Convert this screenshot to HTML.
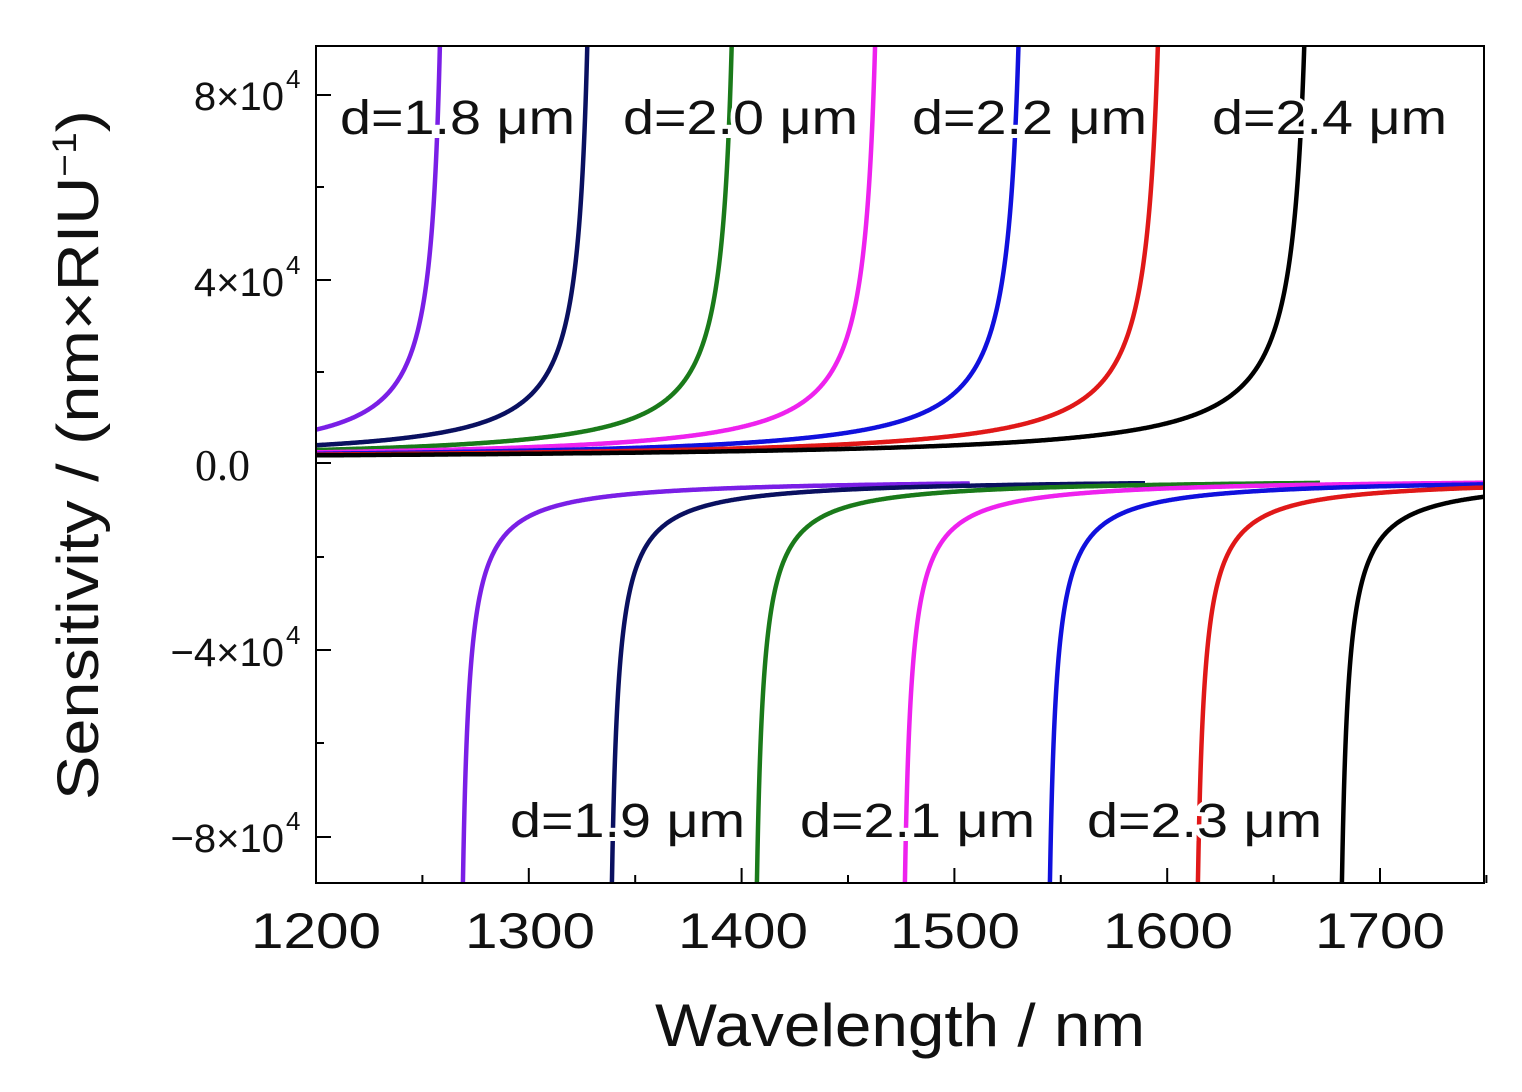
<!DOCTYPE html>
<html><head><meta charset="utf-8"><style>
body{margin:0;background:#fff;width:1522px;height:1092px;overflow:hidden}
svg{display:block}
</style></head><body>
<svg id="s" width="1522" height="1092" xmlns="http://www.w3.org/2000/svg">
<defs><clipPath id="c"><rect x="316" y="46" width="1168" height="837"/></clipPath></defs>
<g id="curves" clip-path="url(#c)" fill="none" stroke-width="4.5"></g>
<rect x="316" y="46" width="1168" height="837" fill="none" stroke="#000" stroke-width="2"/>
<g id="ticks" stroke="#000" stroke-width="2"></g>
<g font-family="Liberation Sans, sans-serif" font-size="48" fill="#111" stroke="#fff" stroke-width="8" paint-order="stroke">
<text x="340" y="134" textLength="235" lengthAdjust="spacingAndGlyphs">d=1.8 μm</text>
<text x="623" y="134" textLength="235" lengthAdjust="spacingAndGlyphs">d=2.0 μm</text>
<text x="912" y="134" textLength="235" lengthAdjust="spacingAndGlyphs">d=2.2 μm</text>
<text x="1212" y="134" textLength="235" lengthAdjust="spacingAndGlyphs">d=2.4 μm</text>
<text x="510" y="837" textLength="235" lengthAdjust="spacingAndGlyphs">d=1.9 μm</text>
<text x="800" y="837" textLength="235" lengthAdjust="spacingAndGlyphs">d=2.1 μm</text>
<text x="1087" y="837" textLength="235" lengthAdjust="spacingAndGlyphs">d=2.3 μm</text>
</g>
<g font-family="Liberation Sans, sans-serif" font-size="50" fill="#111">
<text x="251" y="948" textLength="130" lengthAdjust="spacingAndGlyphs">1200</text>
<text x="465" y="948" textLength="130" lengthAdjust="spacingAndGlyphs">1300</text>
<text x="678" y="948" textLength="130" lengthAdjust="spacingAndGlyphs">1400</text>
<text x="890" y="948" textLength="130" lengthAdjust="spacingAndGlyphs">1500</text>
<text x="1103" y="948" textLength="130" lengthAdjust="spacingAndGlyphs">1600</text>
<text x="1315" y="948" textLength="130" lengthAdjust="spacingAndGlyphs">1700</text>
<text x="655" y="1046" font-size="60" textLength="490" lengthAdjust="spacingAndGlyphs">Wavelength / nm</text>
<text transform="translate(98,800) rotate(-90)" font-size="58" textLength="690" lengthAdjust="spacingAndGlyphs">Sensitivity / (nm×RIU<tspan font-size="34" dy="-22">−1</tspan><tspan dy="22">)</tspan></text>
</g>
<g font-family="Liberation Sans, sans-serif" font-size="40" fill="#111" text-anchor="end">
<text x="284" y="110">8×10</text><text x="286" y="88" font-size="26" text-anchor="start">4</text>
<text x="284" y="296">4×10</text><text x="286" y="274" font-size="26" text-anchor="start">4</text>
<text x="250" y="480" font-family="Liberation Serif, serif" font-size="44">0.0</text>
<text x="284" y="666">−4×10</text><text x="286" y="644" font-size="26" text-anchor="start">4</text>
<text x="284" y="852">−8×10</text><text x="286" y="830" font-size="26" text-anchor="start">4</text>
</g>
</svg>
<script>
var g=document.getElementById('curves'),t=document.getElementById('ticks'),NS='http://www.w3.org/2000/svg';
function P(d,c){var p=document.createElementNS(NS,'path');p.setAttribute('d',d);p.setAttribute('stroke',c);g.appendChild(p);}
var cols=['#7a1fe6','#0a1060','#1a7a1a','#ee22ee','#1010dd','#e01818','#000'];
var pa=[450,598,743,887,1031,1171,1318];
var na=[456,605,750,898,1043,1191,1335];
var ne=[970,1145,1320,1484,1484,1484,1484];
for(var i=0;i<7;i++){
 var d='',k=4200+i*250;
 for(var x=316;x<pa[i];x+=0.5){var y=461-k/(pa[i]-x);if(y<30)y=30;d+=(d?'L':'M')+x+' '+y.toFixed(1);}
 P(d,cols[i]);
 d='';var k2=2800;
 for(var x=na[i]+0.5;x<=ne[i];x+=0.5){var y=478+k2/(x-na[i]);if(y>900)y=900;d+=(d?'L':'M')+x+' '+y.toFixed(1);}
 P(d,cols[i]);
}
function L(x1,y1,x2,y2){var l=document.createElementNS(NS,'line');l.setAttribute('x1',x1);l.setAttribute('y1',y1);l.setAttribute('x2',x2);l.setAttribute('y2',y2);t.appendChild(l);}
for(var v=1200;v<=1750;v+=50){var x=316+(v-1200)*2.128;L(x,883,x,v%100?875:868);}
[95,187,280,372,463,557,650,743,837].forEach(function(y,j){L(316,y,j%2?324:331,y);});
</script>
</body></html>
